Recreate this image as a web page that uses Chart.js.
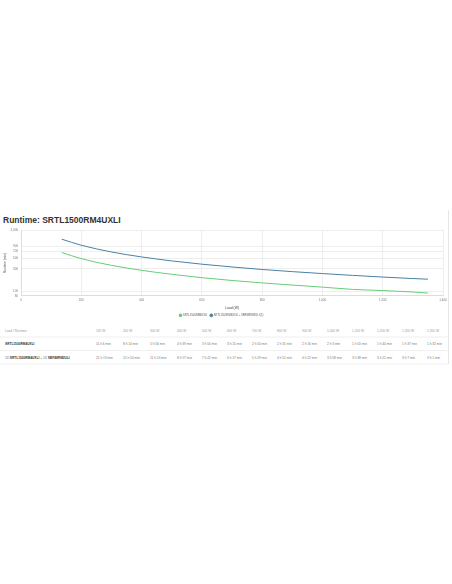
<!DOCTYPE html>
<html>
<head>
<meta charset="utf-8">
<title>Runtime: SRTL1500RM4UXLI</title>
<script src="https://cdn.jsdelivr.net/npm/chart.js@4.4.1/dist/chart.umd.min.js"></script>
<style>
  body { margin: 0; background: #fff; font-family: Arial, "Liberation Sans", sans-serif; }
  #page { position: relative; width: 452px; height: 584px; overflow: hidden; }
  h2 { position: absolute; left: 3px; top: 215px; margin: 0; font-size: 8.5px; line-height: 10px; font-weight: bold; color: #333; }
  #chartBox { position: absolute; left: 0; top: 222px; width: 452px; height: 97px; }
  #edge { position: absolute; left: 448px; top: 210px; width: 1px; height: 154px; background: #e6e6e6; }
  /* la taula es dibuixa al doble i s'escala: així el text petit surt en gris i no amb colors */
  #tblWrap { position: absolute; left: 0; top: 324px; width: 896px; transform: scale(0.5); transform-origin: 0 0; }
  table { border-collapse: collapse; table-layout: fixed; font-size: 6.4px; color: #777; }
  td, th { height: 25px; padding: 0; border-bottom: 2px solid #f0f0f0; text-align: left; white-space: nowrap; font-weight: normal; }
  td.name { padding-left: 10px; color: #666; }
  td.name b { color: #333; }
  th { color: #999; }
  th.name { padding-left: 10px; }
</style>
</head>
<body>
<div id="page">
  <h2>Runtime: SRTL1500RM4UXLI</h2>
  <div id="chartBox"><canvas id="chartRuntime"></canvas></div>
  <div id="edge"></div>
  <div id="tblWrap"><table id="tbl"></table></div>
</div>
<script>
// dades llegides de la taula d'autonomia (minuts)
const loads = [135, 200, 300, 400, 500, 600, 700, 800, 900, 1000, 1100, 1200, 1300, 1350];
const runtimeUps = [666, 494, 356, 279, 230, 195, 170, 151, 136, 123, 110, 104, 97, 92];
const runtimeUpsPack = [1279, 950, 684, 537, 442, 377, 329, 291, 262, 238, 218, 201, 187, 181];
const seriesNames = ["SRTL1500RM4UXLI", "SRTL1500RM4UXLI + XBP48RM2ULI (1)"];
const rowNames = ["<b>SRTL1500RM4UXLI</b>", "1X <b>SRTL1500RM4UXLI</b> + 1X <b>XBP48RM2ULI</b>"];
const xTicks = [0, 200, 400, 600, 800, 1000, 1200, 1400];
const yTicks = [80, 100, 300, 500, 700, 900, 2000];

const GREEN = "#66cc78";
const BLUE = "#4a80a4";
// inici de cada columna de la taula, en px de pantalla
const colStarts = [0, 96, 123, 150, 177, 202, 227, 252, 277, 302, 327, 352, 377, 402, 427, 448];

function fmtNum(v) {
  return Number(v).toLocaleString("en-US");
}

function fmtRuntime(min) {
  return `${Math.floor(min / 60)} h ${min % 60} min`;
}

function buildTable() {
  const tbl = document.getElementById("tbl");
  let html = "<colgroup>";
  for (let i = 0; i < colStarts.length - 1; i++) {
    html += `<col style="width:${(colStarts[i + 1] - colStarts[i]) * 2}px">`;
  }
  html += "</colgroup>";
  html += `<tr><th class="name">Load / Runtime</th>${loads.map(l => `<th>${fmtNum(l)} W</th>`).join("")}</tr>`;
  [runtimeUps, runtimeUpsPack].forEach((vals, i) => {
    html += `<tr><td class="name">${rowNames[i]}</td>${vals.map(v => `<td>${fmtRuntime(v)}</td>`).join("")}</tr>`;
  });
  tbl.innerHTML = html;
}

function points(vals) {
  return loads.map((x, i) => ({ x, y: vals[i] }));
}

function buildChart() {
  const ctx = document.getElementById("chartRuntime");
  Chart.defaults.font.family = "Arial, 'Liberation Sans', sans-serif";
  const tickFont = { size: 3 };
  return new Chart(ctx, {
    type: "line",
    data: {
      datasets: [
        { label: seriesNames[0], data: points(runtimeUps), borderColor: GREEN, backgroundColor: GREEN,
          borderWidth: 1, pointRadius: 0, cubicInterpolationMode: "monotone" },
        { label: seriesNames[1], data: points(runtimeUpsPack), borderColor: BLUE, backgroundColor: BLUE,
          borderWidth: 1, pointRadius: 0, cubicInterpolationMode: "monotone" }
      ]
    },
    options: {
      responsive: true,
      maintainAspectRatio: false,
      animation: false,
      layout: { padding: { left: 0, right: 9, top: 8, bottom: 0 } },
      plugins: {
        legend: {
          position: "bottom",
          maxHeight: 8,
          labels: { usePointStyle: true, pointStyle: "circle", boxWidth: 2, boxHeight: 2, padding: 3,
                    font: { size: 2.7 }, color: "#555" }
        },
        tooltip: { enabled: false }
      },
      scales: {
        x: {
          type: "linear",
          min: 0,
          max: 1400,
          afterBuildTicks: s => { s.ticks = xTicks.map(v => ({ value: v })); },
          ticks: { font: tickFont, color: "#777", padding: 2.6, callback: v => fmtNum(v) },
          grid: { color: "#e6e6e6", lineWidth: 0.7, drawTicks: false },
          border: { color: "#ddd" },
          title: { display: true, text: "Load (W)", font: { size: 3.4 }, color: "#444", padding: { top: 1.8, bottom: 0.4 } }
        },
        y: {
          type: "logarithmic",
          min: yTicks[0],
          max: yTicks[yTicks.length - 1],
          afterBuildTicks: s => { s.ticks = yTicks.map(v => ({ value: v })); },
          afterFit: s => { s.width = 21; },
          ticks: { font: tickFont, color: "#777", padding: 3, autoSkip: false, callback: v => fmtNum(v) },
          grid: { color: "#e6e6e6", lineWidth: 0.7, drawTicks: false },
          border: { color: "#ddd" },
          title: { display: true, text: "Runtime (min)", font: { size: 3.2 }, color: "#444", padding: { top: 3.5, bottom: 0 } }
        }
      }
    }
  });
}

buildTable();
buildChart();
</script>
</body>
</html>
